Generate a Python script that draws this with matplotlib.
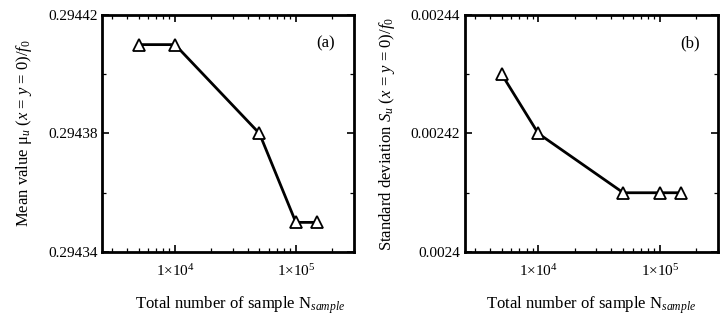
import numpy as np
import matplotlib.pyplot as plt
from matplotlib.ticker import FixedLocator, LogLocator, NullFormatter

plt.rcParams['font.family'] = ['Liberation Serif', 'DejaVu Serif']
plt.rcParams['mathtext.fontset'] = 'custom'
plt.rcParams['mathtext.rm'] = 'Liberation Serif'
plt.rcParams['mathtext.it'] = 'Liberation Serif:italic'

# data
n_sample = [5000, 10000, 50000, 100000, 150000]
mean_val = [0.29441, 0.29441, 0.29438, 0.29435, 0.29435]
std_val = [0.00243, 0.00242, 0.00241, 0.00241, 0.00241]

mean_major = [0.29434, 0.29438, 0.29442]
mean_minor = [0.29436, 0.29440]
mean_labels = ['0.29434', '0.29438', '0.29442']
std_major = [0.0024, 0.00242, 0.00244]
std_minor = [0.00241, 0.00243]
std_labels = ['0.0024', '0.00242', '0.00244']

fig = plt.figure(figsize=(7.2, 3.26), dpi=100)
ax1 = fig.add_axes([0.142, 0.227, 0.349, 0.727])
ax2 = fig.add_axes([0.646, 0.227, 0.351, 0.727])

panels = [
    (ax1, mean_val, mean_major, mean_minor, mean_labels,
     r'Mean value μ$_u$ ($x$ = $y$ = 0)/$f_0$', '(a)', 0.55),
    (ax2, std_val, std_major, std_minor, std_labels,
     r'Standard deviation $S_u$ ($x$ = $y$ = 0)/$f_0$', '(b)', 0.5),
]

for ax, vals, major, minor, labels, ylab, tag, xl in panels:
    ax.plot(n_sample, vals, color='black', lw=2, marker='^', ms=8,
            mfc='white', mec='black', mew=1.3)
    ax.set_xscale('log')
    ax.set_xlim(2500, 3e5)
    ax.set_ylim(major[0], major[-1])
    ax.xaxis.set_major_locator(FixedLocator([1e4, 1e5]))
    ax.set_xticklabels([r'1×10$^4$', r'1×10$^5$'])
    ax.xaxis.set_minor_locator(LogLocator(base=10, subs=np.arange(2, 10)))
    ax.xaxis.set_minor_formatter(NullFormatter())
    ax.yaxis.set_major_locator(FixedLocator(major))
    ax.yaxis.set_minor_locator(FixedLocator(minor))
    ax.set_yticklabels(labels)
    ax.tick_params(which='both', direction='in', top=True, right=True,
                   labelsize=11)
    ax.tick_params(which='major', length=5, width=1.2)
    ax.tick_params(which='minor', length=3, width=0.9)
    ax.tick_params(axis='x', pad=8)
    for s in ax.spines.values():
        s.set_linewidth(2)
    ax.set_ylabel(ylab, fontsize=12, labelpad=10)
    ax.set_xlabel(r'Total number of sample N$_{\mathit{sample}}$',
                  fontsize=12)
    ax.xaxis.set_label_coords(xl, -0.18)
    ax.text(0.89, 0.88, tag, transform=ax.transAxes, ha='center',
            va='center', fontsize=12)

fig.savefig('out.png', dpi=100)
